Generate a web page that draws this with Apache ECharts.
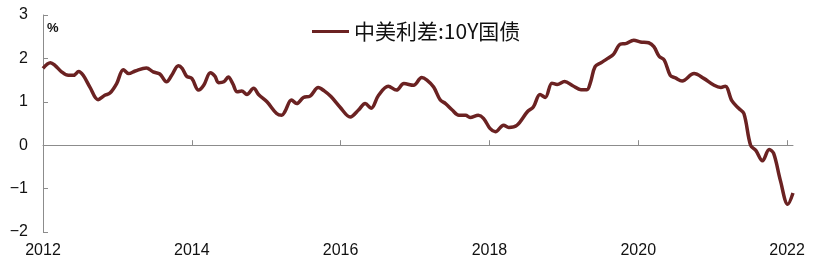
<!DOCTYPE html>
<html>
<head>
<meta charset="utf-8">
<script src="https://cdn.jsdelivr.net/npm/echarts@6/dist/echarts.min.js"></script>
<style>
html,body{margin:0;padding:0;background:#fff;}
#c{width:821px;height:266px;}
</style>
</head>
<body>
<div id="c"></div>
<script>
// Decimal-year dates and spread values (%)
const years = [
  2012.00, 2012.10, 2012.16, 2012.25, 2012.34, 2012.41, 2012.48, 2012.54, 2012.63, 2012.74,
  2012.83, 2012.90, 2012.99, 2013.08, 2013.15, 2013.24, 2013.39, 2013.48, 2013.57, 2013.66,
  2013.73, 2013.82, 2013.87, 2013.93, 2014.00, 2014.09, 2014.16, 2014.25, 2014.31, 2014.36,
  2014.43, 2014.49, 2014.55, 2014.61, 2014.67, 2014.74, 2014.83, 2014.90, 2015.01, 2015.14,
  2015.21, 2015.25, 2015.34, 2015.41, 2015.50, 2015.59, 2015.70, 2015.78, 2015.87, 2015.99,
  2016.13, 2016.24, 2016.33, 2016.41, 2016.51, 2016.64, 2016.75, 2016.85, 2016.98, 2017.09,
  2017.16, 2017.25, 2017.34, 2017.41, 2017.50, 2017.59, 2017.68, 2017.74, 2017.85, 2017.92,
  2018.01, 2018.08, 2018.19, 2018.26, 2018.37, 2018.51, 2018.59, 2018.68, 2018.75, 2018.84,
  2018.91, 2019.01, 2019.12, 2019.23, 2019.31, 2019.36, 2019.42, 2019.50, 2019.59, 2019.67,
  2019.76, 2019.83, 2019.94, 2020.03, 2020.14, 2020.21, 2020.28, 2020.35, 2020.43, 2020.50,
  2020.59, 2020.75, 2020.88, 2021.02, 2021.11, 2021.17, 2021.26, 2021.35, 2021.42, 2021.51,
  2021.58, 2021.67, 2021.76, 2021.82, 2021.91, 2022.01, 2022.08
];
const spread = [
  1.77, 1.90, 1.84, 1.69, 1.61, 1.61, 1.70, 1.61, 1.34, 1.05,
  1.15, 1.20, 1.42, 1.74, 1.65, 1.71, 1.78, 1.69, 1.64, 1.46,
  1.61, 1.83, 1.77, 1.59, 1.54, 1.27, 1.38, 1.67, 1.59, 1.44,
  1.46, 1.57, 1.42, 1.23, 1.25, 1.17, 1.31, 1.16, 1.00, 0.73,
  0.69, 0.77, 1.04, 0.96, 1.10, 1.13, 1.33, 1.25, 1.12, 0.88,
  0.65, 0.81, 0.96, 0.85, 1.15, 1.36, 1.27, 1.42, 1.38, 1.56,
  1.50, 1.34, 1.04, 0.96, 0.81, 0.69, 0.69, 0.64, 0.69, 0.62,
  0.38, 0.31, 0.46, 0.41, 0.46, 0.77, 0.88, 1.17, 1.10, 1.43,
  1.40, 1.47, 1.37, 1.28, 1.28, 1.46, 1.81, 1.90, 2.00, 2.10,
  2.33, 2.34, 2.42, 2.38, 2.36, 2.27, 2.05, 1.96, 1.61, 1.55,
  1.48, 1.65, 1.54, 1.38, 1.33, 1.36, 1.02, 0.85, 0.73, 0.00,
  -0.12, -0.36, -0.10, -0.19, -0.81, -1.36, -1.10
];
const xTicks = [2012, 2014, 2016, 2018, 2020, 2022];
const seriesName = '中美利差:10Y国债';

const lineColor = '#6B2222';
const axisColor = '#8c8c8c';
const labelFont = 'Liberation Sans, Arial, sans-serif';

const chart = echarts.init(document.getElementById('c'), null, {renderer: 'canvas'});
const xMin = 2012, xMax = 2022.08;
chart.setOption({
  animation: false,
  backgroundColor: '#fff',
  grid: {left: 43, right: 28, top: 15, bottom: 34, containLabel: false},
  legend: {
    data: [seriesName],
    left: 307, top: 16,
    icon: 'rect', itemWidth: 37, itemHeight: 3, itemGap: 6,
    textStyle: {fontSize: 21, color: '#111', fontFamily: 'Noto Sans CJK SC, sans-serif'}
  },
  graphic: [{
    type: 'text', left: 47, top: 22,
    style: {text: '%', fontSize: 13, fontWeight: 'bold', fill: '#111', fontFamily: labelFont}
  }],
  xAxis: [{
    type: 'value', min: xMin, max: xMax,
    axisLine: {show: true, onZero: true, lineStyle: {color: axisColor, width: 1}},
    axisTick: {show: true, inside: true, length: 5, customValues: xTicks, lineStyle: {color: axisColor}},
    axisLabel: {show: false},
    splitLine: {show: false}
  }, {
    type: 'value', min: xMin, max: xMax, position: 'bottom',
    axisLine: {show: false, onZero: false},
    axisTick: {show: false},
    axisLabel: {show: true, customValues: xTicks, margin: 11, fontSize: 16, color: '#111', fontFamily: labelFont,
      formatter: v => String(Math.round(v))},
    splitLine: {show: false}
  }],
  yAxis: {
    type: 'value', min: -2, max: 3, interval: 1,
    axisLine: {show: true, lineStyle: {color: axisColor, width: 1}},
    axisTick: {show: true, inside: true, length: 5, lineStyle: {color: axisColor}},
    axisLabel: {fontSize: 16, color: '#111', margin: 15, fontFamily: labelFont,
      formatter: v => String(v).replace('-', '\u2212')},
    splitLine: {show: false}
  },
  series: [{
    name: seriesName,
    type: 'line',
    xAxisIndex: 0,
    data: years.map((y, i) => [y, spread[i]]),
    showSymbol: false,
    smooth: 0.35,
    lineStyle: {color: lineColor, width: 3.5},
    itemStyle: {color: lineColor}
  }]
});
</script>
</body>
</html>
